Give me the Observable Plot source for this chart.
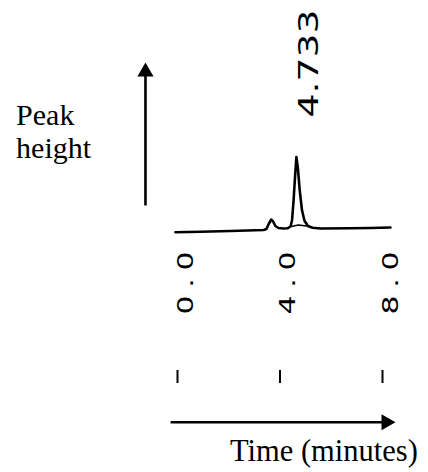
<!DOCTYPE html>
<html><head><meta charset="utf-8">
<script src="https://cdn.jsdelivr.net/npm/d3@7"></script>
<script src="https://cdn.jsdelivr.net/npm/@observablehq/plot@0.6"></script>
<style>
html,body{margin:0;padding:0;background:#fff;}
#chart svg{display:block;}
</style></head><body><div id="chart"></div>
<script>
// Chromatogram trace (time in minutes, detector signal in arbitrary units)
const time   = [-0.08, 0.90, 2.07, 3.04, 3.36, 3.47, 3.57, 3.66, 3.73, 3.82, 3.94, 4.14, 4.29, 4.41, 4.47, 4.53, 4.59, 4.64, 4.70, 4.77, 4.86, 4.96, 5.09, 5.27, 5.58, 6.75, 7.53, 8.31];
const signal = [0.4, 1.1, 1.9, 2.9, 3.3, 4.7, 12.0, 17.3, 14.7, 8.7, 6.0, 5.3, 5.6, 8.0, 16.0, 42.7, 76.0, 100.7, 85.3, 56.0, 29.3, 15.3, 8.7, 6.3, 5.3, 5.6, 6.0, 6.7];
// integration baseline drawn under the main peak
const integTime   = [4.43, 4.72, 5.03];
const integSignal = [8.0, 10.0, 8.7];
const tickValues = [0, 4, 8];
const tickLabels = ["0.0", "4.0", "8.0"];
const peakTime = 4.733;
const peakLabel = "4.733";
const yTitle = "Peak\nheight";
const xTitle = "Time (minutes)";

// decorative axis arrows (in data units)
const arrowLines = [
  {x1: -1.25, y1: 36, x2: -1.25, y2: 210},
  {x1: -0.27, y1: -253, x2: 8.08, y2: -253}
];
const arrowHeads = [
  {x: -1.25, y: 214.3, a: 0},
  {x: 8.144, y: -253, a: 90}
];

const serif = "'Liberation Serif', 'Times New Roman', serif";
const chart = Plot.plot({
  width: 428, height: 472,
  marginTop: 0, marginRight: 46, marginBottom: 102, marginLeft: 177,
  x: {domain: [0, 8], range: [177, 382], label: null},
  y: {domain: [0, 100], range: [232, 157], axis: null, label: null},
  style: {background: "white", overflow: "visible", color: "black"},
  marks: [
    Plot.axisX(tickValues, {tickSize: 13, strokeWidth: 2, tickFormat: () => "", label: null}),
    Plot.text(tickValues, {x: d => d, text: (d, i) => tickLabels[i], frameAnchor: "bottom", dy: -56, dx: 8.5,
      rotate: -90, textAnchor: "start", lineAnchor: "middle", fontFamily: "DejaVu Sans", fontSize: 20.5,
      fill: "black"}),
    Plot.line(time, {x: time, y: signal, stroke: "black", strokeWidth: 2.6, strokeLinejoin: "round"}),
    Plot.line(integTime, {x: integTime, y: integSignal, stroke: "black", strokeWidth: 1.4}),
    Plot.text([{t: peakTime, label: peakLabel}], {x: "t", text: "label", frameAnchor: "top", dy: 117, dx: 11,
      rotate: -90, textAnchor: "start", lineAnchor: "middle", fontFamily: "DejaVu Sans", fontSize: 27,
      fill: "black"}),
    Plot.link(arrowLines, {x1: "x1", y1: "y1", x2: "x2", y2: "y2", stroke: "black", strokeWidth: 2.6}),
    Plot.dot(arrowHeads, {x: "x", y: "y", rotate: "a", symbol: "triangle", r: 6, fill: "black", stroke: "none"}),
    Plot.text([yTitle], {x: () => -6.30, y: () => 100, text: d => d, textAnchor: "start", lineAnchor: "bottom",
      lineHeight: 1.1, fontFamily: serif, fontSize: 30, fill: "black"}),
    Plot.text([xTitle], {x: () => 2.05, y: () => -304, text: d => d, textAnchor: "start", lineAnchor: "bottom",
      fontFamily: serif, fontSize: 30.5, fill: "black"})
  ]
});

const sel = d3.select(chart);
sel.selectAll("text").each(function() {
  const t = this.textContent;
  const s = d3.select(this);
  if (tickLabels.includes(t)) {
    s.style("font-family", "'DejaVu Sans'").attr("letter-spacing", 5.3)
     .attr("transform", (this.getAttribute("transform") || "") + " scale(1.46,1)");
  } else if (t === peakLabel) {
    s.style("font-family", "'DejaVu Sans'")
     .attr("transform", (this.getAttribute("transform") || "") + " scale(1.4,1)");
  } else if (t === xTitle || t.replace(/\s/g, "") === yTitle.replace(/\s/g, "")) {
    s.style("font-family", serif);
  }
});

document.getElementById("chart").append(chart);
</script></body></html>
